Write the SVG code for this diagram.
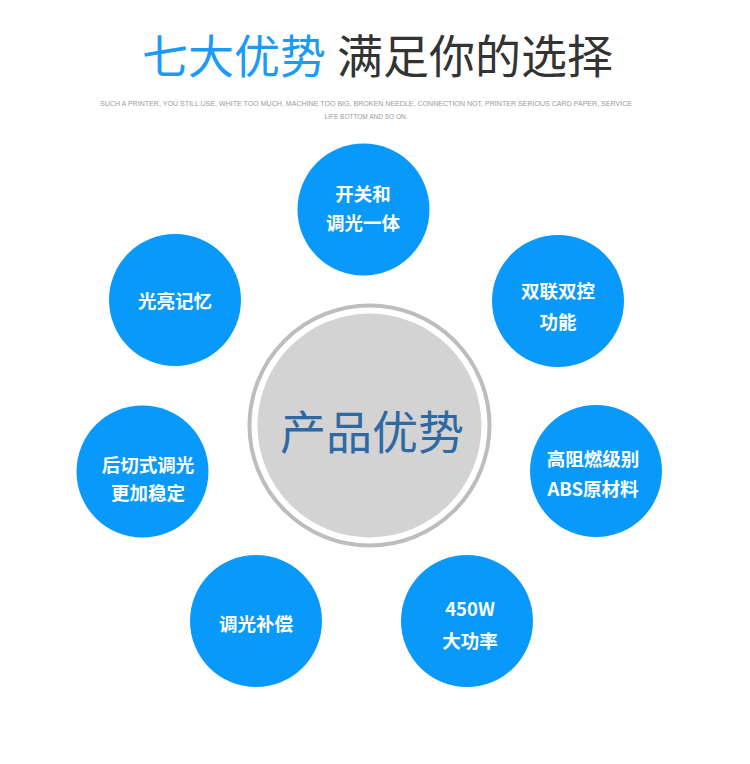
<svg xmlns="http://www.w3.org/2000/svg" width="750" height="764" viewBox="0 0 750 764">
<style>
.t{font-family:"Noto Sans CJK SC","Noto Sans",sans-serif}
.n{fill:#0899fb}
.l{font-family:"Noto Sans CJK SC","Noto Sans",sans-serif;font-weight:bold;font-size:18.5px;fill:#fff;text-anchor:middle}
.s{font-family:"Liberation Sans","Noto Sans",sans-serif;font-size:6.5px;fill:#9a9a9a;text-anchor:middle}
</style>
<rect width="750" height="764" fill="#fff"/>
<g id="title">
<text class="t" x="142" y="73" font-size="46" fill="#1a9bf5">七大优势</text>
<text class="t" x="337" y="73" font-size="46" fill="#333">满足你的选择</text>
<text class="s" x="366" y="106" textLength="532" lengthAdjust="spacingAndGlyphs">SUCH A PRINTER, YOU STILL USE, WHITE TOO MUCH, MACHINE TOO BIG, BROKEN NEEDLE, CONNECTION NOT, PRINTER SERIOUS CARD PAPER, SERVICE</text>
<text class="s" x="366" y="119">LIFE BOTTOM AND SO ON.</text>
</g>
<g id="connectors"></g>
<g id="center">
<circle cx="369.5" cy="425.5" r="120" fill="none" stroke="#bdbdbd" stroke-width="4"/>
<circle cx="369.5" cy="425.5" r="112" fill="#d3d3d3"/>
<text class="t" x="372" y="449" font-size="46" fill="#2f69a3" text-anchor="middle">产品优势</text>
</g>
<g id="n1"><circle class="n" cx="363.5" cy="209.5" r="66"/><text class="l" x="363" y="201">开关和</text><text class="l" x="363" y="230">调光一体</text></g>
<g id="n2"><circle class="n" cx="558" cy="301" r="66"/><text class="l" x="558" y="298">双联双控</text><text class="l" x="558" y="329">功能</text></g>
<g id="n3"><circle class="n" cx="596" cy="471" r="66"/><text class="l" x="593" y="466">高阻燃级别</text><text class="l" x="593" y="496">ABS原材料</text></g>
<g id="n4"><circle class="n" cx="467" cy="621" r="66"/><text class="l" x="470" y="616">450W</text><text class="l" x="470" y="648">大功率</text></g>
<g id="n5"><circle class="n" cx="256" cy="621" r="66"/><text class="l" x="256" y="631">调光补偿</text></g>
<g id="n6"><circle class="n" cx="142.5" cy="471.5" r="66"/><text class="l" x="148" y="472">后切式调光</text><text class="l" x="148" y="500">更加稳定</text></g>
<g id="n7"><circle class="n" cx="175" cy="300" r="66"/><text class="l" x="175" y="308">光亮记忆</text></g>
</svg>
